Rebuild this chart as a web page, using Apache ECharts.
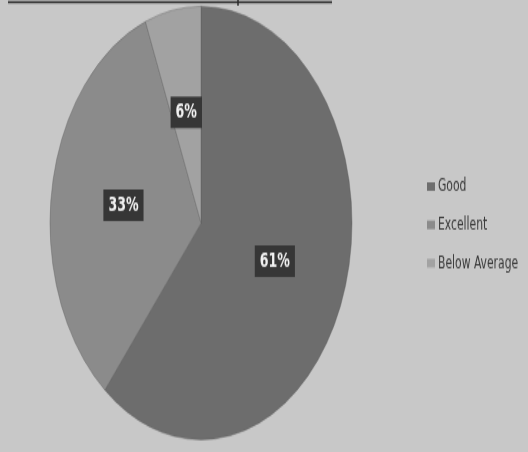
<!DOCTYPE html>
<html>
<head>
<meta charset="utf-8">
<script src="https://cdn.jsdelivr.net/npm/echarts@6/dist/echarts.min.js"></script>
<style>
  html, body { margin: 0; padding: 0; background: #c8c8c8; overflow: hidden; }
  #wrap { width: 528px; height: 452px; overflow: hidden; position: relative; background: #c8c8c8; }
  #chart { width: 528px; height: 315px; transform: scaleY(1.435); transform-origin: 0 0; }
</style>
</head>
<body>
<div id="wrap"><div id="chart"></div></div>
<script>
const categories = ['Good', 'Excellent', 'Below Average'];
const values = [61, 33, 6];
const colors = ['#6d6d6d', '#8b8b8b', '#a2a2a2'];

const chart = echarts.init(document.getElementById('chart'), null, { renderer: 'canvas' });
chart.setOption({
  backgroundColor: '#c8c8c8',
  animation: false,
  color: colors,
  graphic: [
    { type: 'line', shape: { x1: 8, y1: 1.5, x2: 332, y2: 1.5 }, style: { stroke: '#2a2a2a', lineWidth: 1.5 } },
    { type: 'line', shape: { x1: 238, y1: 0, x2: 238, y2: 4 }, style: { stroke: '#2a2a2a', lineWidth: 1.5 } }
  ],
  legend: {
    orient: 'vertical',
    left: 427,
    top: 123,
    padding: 0,
    itemWidth: 8,
    itemHeight: 6,
    itemGap: 12.7,
    icon: 'rect',
    itemStyle: { borderWidth: 0 },
    data: categories,
    textStyle: {
      fontFamily: 'DejaVu Sans Condensed',
      fontSize: 12,
      lineHeight: 14,
      color: '#3a3a3a',
      padding: [0, 0, 0, -2]
    }
  },
  series: [{
    type: 'pie',
    center: [201, 155.4],
    radius: 151,
    startAngle: 90,
    clockwise: true,
    label: {
      show: true,
      position: 'inside',
      formatter: '{c}%',
      fontFamily: 'DejaVu Sans Condensed',
      fontWeight: 'bold',
      fontSize: 14,
      color: '#f2f2f2',
      backgroundColor: '#363636',
      padding: [4, 5]
    },
    labelLine: { show: false },
    itemStyle: { borderWidth: 0.4, borderColor: '#5e5e5e' },
    emphasis: { disabled: true },
    data: categories.map((c, i) => ({ name: c, value: values[i] }))
  }]
});
</script>
</body>
</html>
